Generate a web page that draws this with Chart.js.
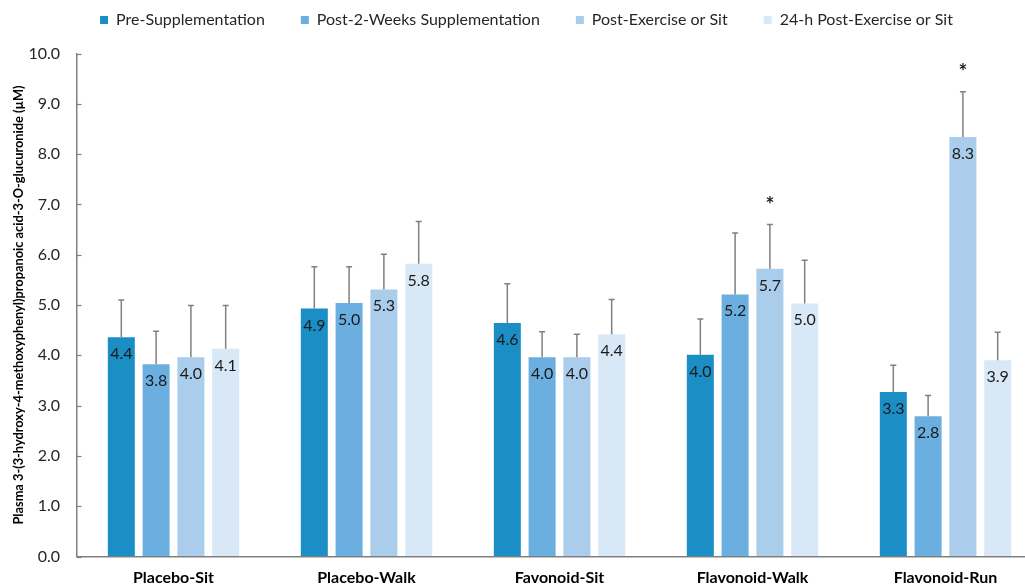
<!DOCTYPE html>
<html>
<head>
<meta charset="utf-8">
<script src="https://cdn.jsdelivr.net/npm/chart.js@4.4.1/dist/chart.umd.min.js"></script>
<style>
  html, body { margin: 0; padding: 0; background: #ffffff; overflow: hidden; }
  #wrap { position: relative; width: 1054px; height: 586px; }
</style>
</head>
<body>
<div id="wrap"><canvas id="chart" width="1054" height="586"></canvas></div>
<script>
// Groups along the x axis
const categories = ['Placebo-Sit', 'Placebo-Walk', 'Favonoid-Sit', 'Flavonoid-Walk', 'Flavonoid-Run'];

// Series names (time points)
const seriesNames = ['Pre-Supplementation', 'Post-2-Weeks Supplementation', 'Post-Exercise or Sit', '24-h Post-Exercise or Sit'];

// Mean plasma concentration (µM) per group
const preSupplementation = [4.36, 4.93, 4.64, 4.01, 3.27];
const post2Weeks         = [3.82, 5.04, 3.96, 5.21, 2.79];
const postExercise       = [3.96, 5.31, 3.96, 5.72, 8.34];
const post24h            = [4.13, 5.82, 4.42, 5.03, 3.90];

// Standard deviations (upper error bars)
const preSupplementationSD = [0.74, 0.83, 0.78, 0.71, 0.53];
const post2WeeksSD         = [0.66, 0.72, 0.51, 1.22, 0.41];
const postExerciseSD       = [1.03, 0.70, 0.46, 0.88, 0.90];
const post24hSD            = [0.86, 0.84, 0.69, 0.86, 0.56];

// Significance markers: series index -> group indices flagged with *
const significant = { 2: [3, 4] };

// Y axis range and step
const yMin = 0, yMax = 10, yStep = 1;

const seriesValues = [preSupplementation, post2Weeks, postExercise, post24h];
const seriesSD = [preSupplementationSD, post2WeeksSD, postExerciseSD, post24hSD];
const seriesColors = ['#1c8ec6', '#6aafdf', '#a9cdea', '#d9e8f6'];

const FONT = 'Lato, "Open Sans", sans-serif';
const AXIS_GREY = '#808080';

// Upper error bars, value labels, significance stars and inward y ticks
const annotate = {
  id: 'annotate',
  afterDatasetsDraw(chart) {
    const ctx = chart.ctx;
    const y = chart.scales.y;
    ctx.save();

    // short tick marks pointing into the plot
    ctx.strokeStyle = AXIS_GREY;
    ctx.lineWidth = 1.2;
    y.ticks.forEach(t => {
      const py = Math.round(y.getPixelForValue(t.value)) + 0.5;
      ctx.beginPath();
      ctx.moveTo(chart.chartArea.left, py);
      ctx.lineTo(chart.chartArea.left + 4.5, py);
      ctx.stroke();
    });

    chart.data.datasets.forEach((ds, di) => {
      const meta = chart.getDatasetMeta(di);
      meta.data.forEach((bar, i) => {
        const v = ds.data[i];
        const sd = seriesSD[di][i];
        const x = bar.x;
        const top = y.getPixelForValue(v);
        const errTop = y.getPixelForValue(v + sd);

        // error bar
        ctx.strokeStyle = AXIS_GREY;
        ctx.lineWidth = 1.5;
        ctx.beginPath();
        ctx.moveTo(x, top);
        ctx.lineTo(x, errTop);
        ctx.moveTo(x - 3, errTop);
        ctx.lineTo(x + 3, errTop);
        ctx.stroke();

        // value label just inside the top of the bar
        ctx.fillStyle = '#1a1a1a';
        ctx.font = '16px ' + FONT;
        ctx.textAlign = 'center';
        ctx.textBaseline = 'alphabetic';
        ctx.fillText(v.toFixed(1), x, top + 22);

        // significance star above the error bar
        if (significant[di] && significant[di].includes(i)) {
          ctx.font = 'bold 21px ' + FONT;
          ctx.textBaseline = 'middle';
          ctx.fillStyle = '#1a1a1a';
          ctx.fillText('*', x, errTop - 19);
        }
      });
    });
    ctx.restore();
  }
};

// Compact legend band above the plot
const legendBand = {
  id: 'legendBand',
  beforeLayout(chart) {
    const lg = chart.legend;
    if (lg && !lg._bandPatched) {
      const baseFit = lg.fit.bind(lg);
      lg.fit = function () { baseFit(); this.height = 53.5; };
      lg._bandPatched = true;
    }
  },
  afterLayout(chart) {
    const lg = chart.legend;
    lg.top = -24;
    lg.bottom = lg.top + lg.height;
    lg.left += 5.5;
    lg.right += 5.5;
  }
};

new Chart(document.getElementById('chart'), {
  type: 'bar',
  data: {
    labels: categories,
    datasets: seriesNames.map((name, k) => ({
      label: name,
      data: seriesValues[k],
      backgroundColor: seriesColors[k],
      borderWidth: 0,
      categoryPercentage: 0.721,
      barPercentage: 0.776
    }))
  },
  options: {
    responsive: false,
    animation: false,
    devicePixelRatio: 1,
    layout: { padding: { left: 0, right: 12, top: 0, bottom: 0 } },
    plugins: {
      legend: {
        position: 'top',
        labels: {
          boxWidth: 8,
          boxHeight: 8,
          padding: 36,
          color: '#262626',
          font: { family: FONT, size: 16 }
        }
      },
      tooltip: { enabled: false }
    },
    scales: {
      x: {
        grid: { display: true, drawOnChartArea: false, drawTicks: false },
        border: { display: true, color: AXIS_GREY, width: 1.5 },
        ticks: {
          color: '#000000',
          padding: 12,
          font: { family: FONT, size: 16, weight: 'bold' }
        },
        afterFit(scale) { scale.height = 29.5; }
      },
      y: {
        min: yMin,
        max: yMax,
        grid: { display: true, drawOnChartArea: false, drawTicks: false },
        border: { display: true, color: AXIS_GREY, width: 1.5 },
        ticks: {
          stepSize: yStep,
          padding: 17,
          color: '#262626',
          font: { family: FONT, size: 16 },
          callback: v => Number(v).toFixed(1)
        },
        title: {
          display: true,
          text: 'Plasma 3-(3-hydroxy-4-methoxyphenyl)propanoic acid-3-O-glucuronide (µM)',
          color: '#000000',
          font: { family: FONT, size: 12.8, weight: 'bold' },
          padding: { top: 11, bottom: 0 }
        },
        afterFit(scale) { scale.width = 77; }
      }
    }
  },
  plugins: [annotate, legendBand]
});
</script>
</body>
</html>
